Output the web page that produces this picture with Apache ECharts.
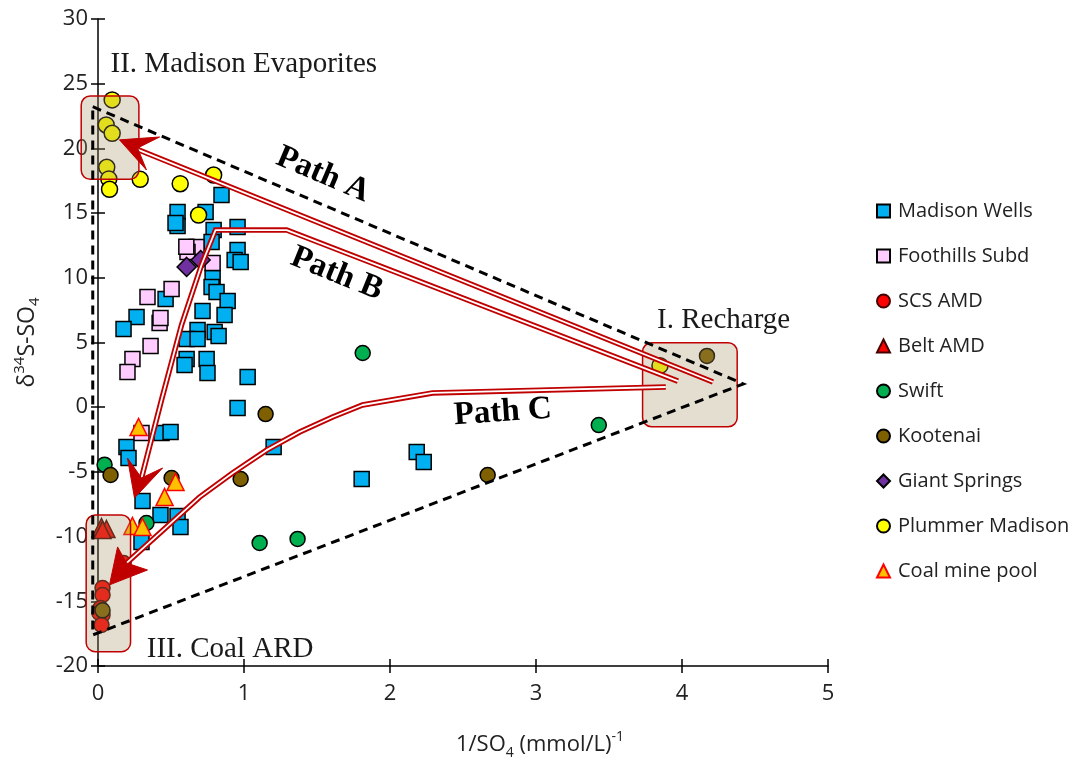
<!DOCTYPE html>
<html>
<head>
<meta charset="utf-8">
<script src="https://cdn.jsdelivr.net/npm/echarts@6/dist/echarts.min.js"></script>
<style>html,body{margin:0;padding:0;background:#fff;}#c{width:1076px;height:761px;}</style>
</head>
<body>
<div id="c"></div>
<script>
// ---- Series values: [1/SO4, d34S] ----
const madisonWells = [[0.846,16.40],[0.545,15.09],[0.737,15.09],[0.545,14.00],[0.531,14.24],[0.956,13.93],[0.792,13.69],[0.778,12.77],[0.956,12.15],[0.936,11.38],[0.977,11.22],[0.785,9.98],[0.778,9.29],[0.812,8.90],[0.888,8.21],[0.463,8.36],[0.716,7.43],[0.867,7.13],[0.264,6.97],[0.175,6.04],[0.682,5.97],[0.799,5.81],[0.826,5.50],[0.607,5.27],[0.682,5.27],[0.607,3.73],[0.744,3.73],[0.593,3.26],[0.750,2.64],[1.025,2.33],[0.956,-0.06],[0.195,-3.08],[0.209,-3.93],[0.435,-1.99],[0.497,-1.92],[0.305,-7.25],[0.428,-8.33],[0.545,-8.41],[0.565,-9.26],[0.298,-10.42],[1.203,-3.08],[2.183,-3.46],[2.231,-4.23],[1.806,-5.55]];
const foothillsSubd = [[0.675,12.38],[0.613,11.99],[0.605,12.40],[0.785,11.14],[0.504,9.13],[0.339,8.52],[0.422,6.51],[0.428,6.90],[0.360,4.73],[0.236,3.73],[0.202,2.72],[0.298,-1.99]];
const scsAmd = [[0.031,-13.97],[0.031,-14.51],[0.017,-15.52],[0.031,-16.05],[0.010,-15.9],[0.024,-16.83],[0.175,-12.04]];
const beltAmd = [[0.024,-9.26],[0.058,-9.41],[0.031,-9.49]];
const swift = [[0.045,-4.44],[1.813,4.19],[3.430,-1.38],[1.107,-10.49],[1.367,-10.18],[0.332,-8.95]];
const kootenai = [[0.086,-5.24],[1.148,-0.53],[0.977,-5.55],[2.669,-5.24],[4.171,3.96],[0.504,-5.47],[0.031,-15.7]];
const giantSprings = [[0.607,10.84],[0.703,11.38]];
const plummerMadison = [[0.097,23.75],[0.056,21.81],[0.097,21.17],[0.060,18.54],[0.074,17.64],[0.079,16.84],[0.289,17.61],[0.563,17.27],[0.792,17.94],[0.689,14.85],[3.849,3.21]];
const coalMinePool = [[0.278,-1.53],[0.531,-5.78],[0.456,-6.94],[0.236,-9.18],[0.305,-9.26]];

const seriesNames = ['Madison Wells','Foothills Subd','SCS AMD','Belt AMD','Swift','Kootenai','Giant Springs','Plummer Madison','Coal mine pool'];
const xTickValues = [0,1,2,3,4,5];
const yTickValues = [-20,-15,-10,-5,0,5,10,15,20,25,30];

// ---- Annotation geometry (data units) ----
const mixTriangle = [[-0.036,23.22],[4.42,1.80],[-0.036,-17.60]];
const endBoxes = [[-0.115,24.05,0.280,17.61],[3.730,4.98,4.378,-1.51],[-0.081,-8.33,0.223,-18.89]];
const pathA = [[4.212,1.95],[0.272,19.91]];
const pathB = [[3.972,2.02],[1.292,13.69],[0.805,13.69],[0.709,10.99],[0.572,6.35],[0.435,0.56],[0.298,-5.47]];
const pathC = [[3.889,1.56],[2.292,1.10],[1.812,0.17],[1.607,-0.76],[1.381,-1.92],[1.155,-3.32],[0.922,-5.09],[0.696,-6.95],[0.195,-12.05]];
const arrowHeads = [
  [[0.147,20.66],[0.422,20.88],[0.271,20.03],[0.332,18.33]],
  [[0.250,-7.01],[0.202,-3.93],[0.298,-5.47],[0.442,-4.70]],
  [[0.079,-13.73],[0.134,-10.80],[0.195,-12.04],[0.339,-12.58]]
];
const regionLabels = [
  {text:'II. Madison Evaporites', at:[0.086,26.52]},
  {text:'I. Recharge', at:[3.829,6.74]},
  {text:'III. Coal ARD', at:[0.334,-18.68]}
];
const pathLabels = [
  {text:'Path A', at:[1.541,17.96], angle:-23},
  {text:'Path B', at:[1.635,10.30], angle:-22},
  {text:'Path C', at:[2.772,-0.40], angle:4}
];

const FONT = 'Open Sans';
const SERIF = 'Liberation Serif';
const RED = '#C00000';

const styles = [
  {symbol:'rect', size:15, color:'#00B0F0', border:'#000', bw:1.5},
  {symbol:'rect', size:15, color:'#FFCCFF', border:'#000', bw:1.5},
  {symbol:'circle', size:15, color:'#FF0000', border:'#400', bw:1.5},
  {symbol:'triangle', size:17, color:'#FF0000', border:'#400', bw:1.5},
  {symbol:'circle', size:15, color:'#00B050', border:'#000', bw:1.5},
  {symbol:'circle', size:15, color:'#7F6000', border:'#000', bw:1.5},
  {symbol:'diamond', size:19, color:'#7030A0', border:'#000', bw:1.5},
  {symbol:'circle', size:16, color:'#FFFF00', border:'#000', bw:1.5},
  {symbol:'triangle', size:17, color:'#FFC000', border:'#FF0000', bw:1.5}
];
const values = [madisonWells, foothillsSubd, scsAmd, beltAmd, swift, kootenai, giantSprings, plummerMadison, coalMinePool];

const scatterSeries = seriesNames.map((n,i)=>({
  name:n, type:'scatter', xAxisIndex:0, yAxisIndex:0, z:2,
  symbol:styles[i].symbol, symbolSize:styles[i].size,
  itemStyle:{color:styles[i].color, borderColor:styles[i].border, borderWidth:styles[i].bw, opacity:1},
  emphasis:{disabled:true}, data:values[i]
}));

function doubleLine(path, id){
  return [
    {type:'line', id:id+'o', data:path, z:5, symbol:'none', clip:false, silent:true,
     lineStyle:{color:RED, width:5.5, join:'miter'}},
    {type:'line', id:id+'i', data:path, z:5, symbol:'none', clip:false, silent:true,
     lineStyle:{color:'#fff', width:1.8}}
  ];
}

const option = {
  animation:false,
  backgroundColor:'#fff',
  grid:{left:98, right:248, top:19, bottom:95, containLabel:false, outerBoundsMode:'none'},
  legend:{
    orient:'vertical', left:876, top:201, padding:0, itemGap:25, itemWidth:13, itemHeight:13,
    data:seriesNames,
    textStyle:{fontFamily:FONT, fontSize:20, color:'#222', lineHeight:20, padding:[0,0,0,3]}
  },
  xAxis:[
    {type:'value', min:0, max:5, interval:1,
     axisLine:{onZero:false, lineStyle:{color:'#000', width:1.5}},
     axisTick:{show:true, length:7, lineStyle:{color:'#000', width:1.5}},
     axisLabel:{fontFamily:FONT, fontSize:22, color:'#222', margin:17},
     splitLine:{show:false},
     name:'1/SO{sub|4} (mmol/L){sup|-1}', nameLocation:'middle', nameGap:64,
     nameTextStyle:{fontFamily:FONT, fontSize:22, color:'#222', padding:[0,0,0,154], lineHeight:30,
       rich:{sub:{fontFamily:FONT,fontSize:14,verticalAlign:'bottom',lineHeight:30,color:'#222'},
             sup:{fontFamily:FONT,fontSize:14,verticalAlign:'top',lineHeight:30,color:'#222'}}}},
    {type:'value', min:0, max:5, interval:1, position:'bottom',
     axisLine:{show:false, onZero:false}, axisTick:{show:true, inside:true, length:7, lineStyle:{color:'#000', width:1.5}},
     axisLabel:{show:false}, splitLine:{show:false}}
  ],
  yAxis:[
    {type:'value', min:-20, max:30, interval:5,
     axisLine:{onZero:false, lineStyle:{color:'#000', width:1.5}},
     axisTick:{show:true, length:7, lineStyle:{color:'#000', width:1.5}},
     axisLabel:{fontFamily:FONT, fontSize:22, color:'#222', margin:10},
     splitLine:{show:false},
     name:'δ{sup|34}S-SO{sub|4}', nameLocation:'middle', nameGap:56, nameRotate:90,
     nameTextStyle:{fontFamily:FONT, fontSize:23, color:'#222', lineHeight:30,
       rich:{sub:{fontFamily:FONT,fontSize:15,verticalAlign:'bottom',lineHeight:30,color:'#222'},
             sup:{fontFamily:FONT,fontSize:15,verticalAlign:'top',lineHeight:30,color:'#222'}}}},
    {type:'value', min:-20, max:30, interval:5, position:'left',
     axisLine:{show:false, onZero:false}, axisTick:{show:true, inside:true, length:7, lineStyle:{color:'#000', width:1.5}},
     axisLabel:{show:false}, splitLine:{show:false}}
  ],
  series:[
    ...scatterSeries,
    {type:'custom', name:'boxes', z:3, clip:false, silent:true,
     data:endBoxes.map((b,i)=>[0,0,i]),
     renderItem:function(params, api){
       const b = endBoxes[api.value(2)];
       const p0 = api.coord([b[0],b[1]]), p1 = api.coord([b[2],b[3]]);
       return {type:'rect', shape:{x:p0[0], y:p0[1], width:p1[0]-p0[0], height:p1[1]-p0[1], r:9},
               style:{fill:'rgba(162,145,95,0.3)', stroke:'#C00000', lineWidth:1.5}};
     }},
    {type:'custom', name:'triangle', z:4, clip:false, silent:true,
     data:[[0,0,0]],
     renderItem:function(params, api){
       return {type:'polygon', shape:{points:mixTriangle.map(p=>api.coord(p))},
               style:{fill:'none', stroke:'#000', lineWidth:3, lineDash:[9,6]}};
     }},
    ...doubleLine(pathA,'pa'), ...doubleLine(pathB,'pb'), ...doubleLine(pathC,'pc'),
    {type:'custom', name:'heads', z:6, clip:false, silent:true,
     data:arrowHeads.map((h,i)=>[0,0,i]),
     renderItem:function(params, api){
       const h = arrowHeads[api.value(2)];
       return {type:'polygon', shape:{points:h.map(p=>api.coord(p))}, style:{fill:RED, stroke:RED, lineWidth:1}};
     }},
    {type:'custom', name:'regionText', z:7, clip:false, silent:true,
     data:regionLabels.map((l,i)=>[0,0,i]),
     renderItem:function(params, api){
       const l = regionLabels[api.value(2)];
       const p = api.coord(l.at);
       return {type:'text', x:p[0], y:p[1],
               style:{text:l.text, fontFamily:SERIF, fontSize:29, fill:'#1a1a1a', align:'left', verticalAlign:'middle'}};
     }},
    {type:'custom', name:'pathText', z:7, clip:false, silent:true,
     data:pathLabels.map((l,i)=>[0,0,i]),
     renderItem:function(params, api){
       const l = pathLabels[api.value(2)];
       const p = api.coord(l.at);
       return {type:'text', x:p[0], y:p[1], rotation:l.angle*Math.PI/180,
               style:{text:l.text, fontFamily:SERIF, fontSize:33, fontWeight:'bold', fill:'#000', align:'center', verticalAlign:'middle'}};
     }}
  ]
};
const chart = echarts.init(document.getElementById('c'), null, {renderer:'canvas'});
chart.setOption(option);
</script>
</body>
</html>
